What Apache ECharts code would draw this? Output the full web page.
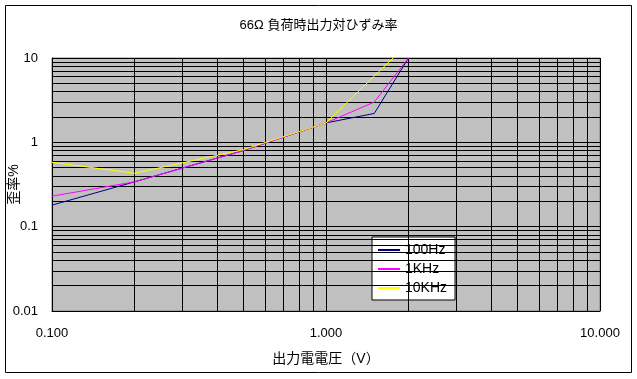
<!DOCTYPE html>
<html>
<head>
<meta charset="utf-8">
<script src="https://cdn.jsdelivr.net/npm/echarts@6/dist/echarts.min.js"></script>
<style>html,body{margin:0;padding:0;background:#fff}#c{width:637px;height:379px}</style>
</head>
<body>
<div id="c"></div>
<script>
const xValues = [0.1, 0.2, 0.5, 1.0, 1.5, 2.0];
const s100Hz = [0.18, 0.34, 0.80, 1.7, 2.2, 10];
const s1KHz = [0.23, 0.34, 0.80, 1.7, 3.0, 10];
const s10KHz = [0.58, 0.43, 0.82, 1.7, 6.1, 15];
const seriesNames = ['100Hz', '1KHz', '10KHz'];
const xGridValues = [0.2, 0.3, 0.4, 0.5, 0.6, 0.7, 0.8, 0.9, 2, 3, 4, 5, 6, 7, 8, 9];
const yGridValues = [0.02, 0.03, 0.04, 0.05, 0.06, 0.07, 0.08, 0.09, 0.2, 0.3, 0.4, 0.5, 0.6, 0.7, 0.8, 0.9, 2, 3, 4, 5, 6, 7, 8, 9];
const titleText = '66Ω 負荷時出力対ひずみ率';
const xName = '出力電電圧（V）';
const yName = '歪率%';

const FONT = "'Liberation Sans', 'Noto Sans CJK JP', sans-serif";
const chart = echarts.init(document.getElementById('c'), null, {renderer: 'canvas'});
const pair = arr => xValues.map((x, i) => [x, arr[i]]);
const colors = ['#000080', '#FF00FF', '#FFFF00'];
const lineSeries = [s100Hz, s1KHz, s10KHz].map((arr, i) => ({
  name: seriesNames[i], type: 'line', data: pair(arr), showSymbol: false, symbol: 'none',
  lineStyle: {color: colors[i], width: 1}, itemStyle: {color: colors[i]}, z: 5, clip: true, silent: true
}));
const gridSeries = {
  name: 'grid', type: 'line', data: [], z: 2, silent: true,
  markLine: {
    silent: true, symbol: ['none', 'none'], label: {show: false}, animation: false,
    lineStyle: {color: '#000', width: 1, type: 'solid'},
    emphasis: {disabled: true},
    data: xGridValues.map(v => ({xAxis: v})).concat(yGridValues.map(v => ({yAxis: v})))
  }
};
chart.setOption({
  animation: false,
  textStyle: {fontFamily: FONT},
  title: {text: titleText, left: 'center', top: 14, textStyle: {fontSize: 13, fontWeight: 'normal', color: '#000', fontFamily: FONT}},
  grid: {left: 52, top: 58, right: 37, bottom: 68, containLabel: false, outerBoundsMode: 'none', show: true, backgroundColor: '#C0C0C0', borderColor: '#808080', borderWidth: 1},
  legend: {
    data: seriesNames, orient: 'vertical', left: 372, top: 237,
    backgroundColor: '#fff', borderColor: '#000', borderWidth: 1, borderRadius: 0,
    padding: [6, 8, 5, 5], itemWidth: 22, itemHeight: 14, itemGap: 5,
    itemStyle: {opacity: 0},
    textStyle: {fontSize: 14, color: '#000', fontFamily: FONT},
    selectedMode: false
  },
  xAxis: {
    type: 'log', logBase: 10, min: 0.1, max: 10,
    name: xName, nameLocation: 'middle', nameGap: 41, nameMoveOverlap: false,
    nameTextStyle: {fontSize: 14, color: '#000', fontFamily: FONT},
    axisLine: {show: true, lineStyle: {color: '#000', width: 1}},
    axisTick: {show: false},
    axisLabel: {color: '#000', fontSize: 13, margin: 16, fontFamily: FONT, formatter: v => Number(v).toFixed(3)},
    splitLine: {show: true, lineStyle: {color: '#000', width: 1}}
  },
  yAxis: {
    type: 'log', logBase: 10, min: 0.01, max: 10,
    name: yName, nameLocation: 'middle', nameGap: 31, nameRotate: 90, nameMoveOverlap: false,
    nameTextStyle: {fontSize: 14, color: '#000', fontFamily: FONT},
    axisLine: {show: true, lineStyle: {color: '#000', width: 1}},
    axisTick: {show: false},
    axisLabel: {color: '#000', fontSize: 13, margin: 14, fontFamily: FONT, formatter: v => String(Number(v))},
    splitLine: {show: true, lineStyle: {color: '#000', width: 1}}
  },
  graphic: [{type: 'rect', shape: {x: 5.5, y: 5.5, width: 626, height: 367}, style: {stroke: '#000', fill: 'transparent', lineWidth: 1}, silent: true, z: 100}],
  series: [gridSeries].concat(lineSeries)
});
</script>
</body>
</html>
